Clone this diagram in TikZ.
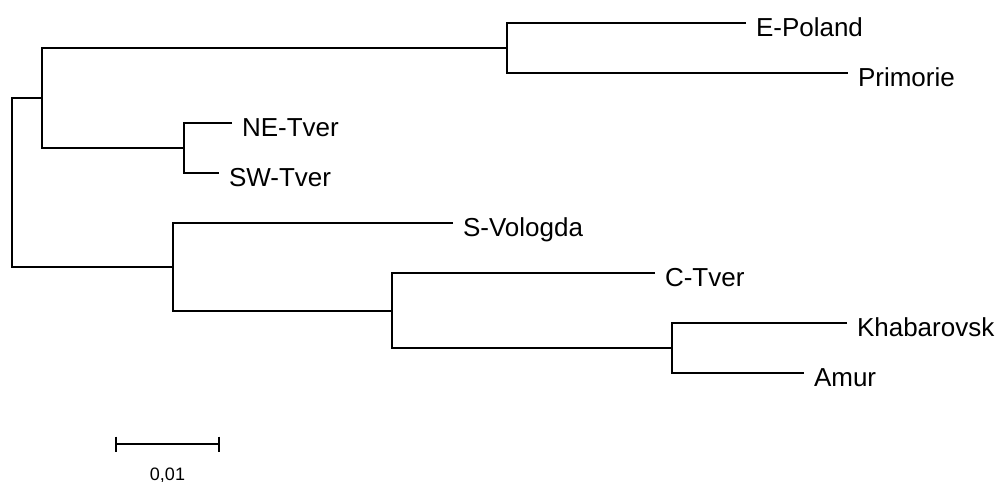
\documentclass[tikz,border=0pt]{standalone}
\usepackage{fontspec}
\setmainfont{Liberation Sans}
\usetikzlibrary{calc}

\begin{document}
\begin{tikzpicture}[x=1pt, y=-1pt, line width=2pt,
    leaf/.style={anchor=west, inner xsep=9pt, inner ysep=0pt, text height=26pt, text depth=0pt, font=\fontsize{26}{30}\selectfont},
    scalelabel/.style={font=\fontsize{18}{22}\selectfont, anchor=base, inner sep=0pt}]
    \useasboundingbox (0,0) rectangle (997,482);

    % Internal nodes
    \coordinate (R) at (12,182.5);
    \coordinate (A) at (42,98);
    \coordinate (B) at (507,48);
    \coordinate (C) at (184,148);
    \coordinate (D) at (173,267);
    \coordinate (E) at (392,311);
    \coordinate (F) at (672,348);

    % Leaves
    \node[leaf] (EPol) at (746,23) {E-Poland};
    \node[leaf] (Prim) at (848,73) {Primorie};
    \node[leaf] (NETv) at (232,123) {NE-Tver};
    \node[leaf] (SWTv) at (219,173) {SW-Tver};
    \node[leaf] (SVol) at (453,223) {S-Vologda};
    \node[leaf] (CTvr) at (655,273) {C-Tver};
    \node[leaf] (Khab) at (847,323) {Khabarovsk};
    \node[leaf] (Amur) at (804,373) {Amur};

    % Branches
    \draw (EPol.west) -| (B) |- (Prim.west);
    \draw (NETv.west) -| (C) |- (SWTv.west);
    \draw (B) -| (A) |- (C);
    \draw (Khab.west) -| (F) |- (Amur.west);
    \draw (CTvr.west) -| (E) |- (F);
    \draw (SVol.west) -| (D) |- (E);
    \draw (A) -| (R) |- (D);

    % Scale bar
    \coordinate (SBl) at (116,444);
    \coordinate (SBr) at (219,444);
    \draw (SBl) -- (SBr);
    \draw ($(SBl)+(0,-7.5)$) -- ($(SBl)+(0,7.5)$);
    \draw ($(SBr)+(0,-7.5)$) -- ($(SBr)+(0,7.5)$);
    \node[scalelabel] (SBlab) at ($(SBl)!0.5!(SBr)+(0,36)$) {0,01};
\end{tikzpicture}
\end{document}
